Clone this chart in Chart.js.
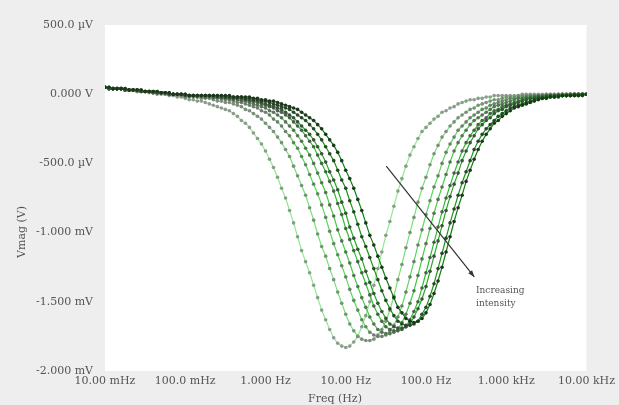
<!DOCTYPE html>
<html>
<head>
<meta charset="utf-8">
<script src="https://cdn.jsdelivr.net/npm/chart.js@4.4.1/dist/chart.umd.min.js"></script>
<style>
  html, body { margin: 0; padding: 0; background: #eeeeee; }
  #wrap { width: 619px; height: 405px; }
</style>
</head>
<body>
<div id="wrap"><canvas id="chart" width="619" height="405"></canvas></div>
<script>
// sweep frequencies (Hz), 20 points per decade
const freqs = [
  0.01, 0.01122, 0.01259, 0.01413, 0.01585, 0.01778, 0.01995, 0.02239, 0.02512, 0.02818,
  0.03162, 0.03548, 0.03981, 0.04467, 0.05012, 0.05623, 0.0631, 0.07079, 0.07943, 0.08913,
  0.1, 0.1122, 0.1259, 0.1413, 0.1585, 0.1778, 0.1995, 0.2239, 0.2512, 0.2818,
  0.3162, 0.3548, 0.3981, 0.4467, 0.5012, 0.5623, 0.631, 0.7079, 0.7943, 0.8913,
  1, 1.122, 1.259, 1.413, 1.585, 1.778, 1.995, 2.239, 2.512, 2.818,
  3.162, 3.548, 3.981, 4.467, 5.012, 5.623, 6.31, 7.079, 7.943, 8.913,
  10, 11.22, 12.59, 14.13, 15.85, 17.78, 19.95, 22.39, 25.12, 28.18,
  31.62, 35.48, 39.81, 44.67, 50.12, 56.23, 63.1, 70.79, 79.43, 89.13,
  100, 112.2, 125.9, 141.3, 158.5, 177.8, 199.5, 223.9, 251.2, 281.8,
  316.2, 354.8, 398.1, 446.7, 501.2, 562.3, 631, 707.9, 794.3, 891.3,
  1000, 1122, 1259, 1413, 1585, 1778, 1995, 2239, 2512, 2818,
  3162, 3548, 3981, 4467, 5012, 5623, 6310, 7079, 7943, 8913,
  10000
]

// Vmag in mV, lowest intensity first
const curve1 = [
  0.05, 0.04, 0.04, 0.04, 0.04, 0.03, 0.03, 0.03, 0.02, 0.02,
  0.02, 0.01, 0.01, 0.00, 0.00, 0.00, -0.01, -0.01, -0.02, -0.02,
  -0.03, -0.04, -0.04, -0.05, -0.05, -0.06, -0.07, -0.08, -0.09, -0.10,
  -0.11, -0.12, -0.14, -0.16, -0.19, -0.21, -0.24, -0.28, -0.32, -0.36,
  -0.41, -0.47, -0.53, -0.60, -0.68, -0.75, -0.84, -0.93, -1.03, -1.13,
  -1.21, -1.29, -1.38, -1.47, -1.56, -1.63, -1.70, -1.76, -1.80, -1.82,
  -1.83,
  -1.82, -1.79, -1.75, -1.68, -1.60, -1.50, -1.38, -1.26, -1.14, -1.02,
  -0.92, -0.81, -0.70, -0.61, -0.52, -0.44, -0.38, -0.32, -0.27, -0.24,
  -0.21, -0.18, -0.16, -0.13, -0.12, -0.10, -0.09, -0.07, -0.06, -0.05,
  -0.04, -0.04, -0.03, -0.03, -0.02, -0.02, -0.01, -0.01, -0.01, -0.01,
  -0.01, -0.01, -0.01, 0, 0, 0, 0, 0, 0, 0,
  0, 0, 0, 0, 0, 0, 0, 0, 0, 0
]
const curve2 = [
  0.05, 0.04, 0.04, 0.04, 0.04, 0.03, 0.03, 0.03, 0.02, 0.02,
  0.02, 0.02, 0.01, 0.01, 0.01, 0.00, 0.00, 0.00, -0.01, -0.01,
  -0.02, -0.02, -0.02, -0.02, -0.03, -0.03, -0.03, -0.04, -0.05, -0.05,
  -0.06, -0.06, -0.07, -0.08, -0.09, -0.11, -0.12, -0.14, -0.16, -0.18,
  -0.21, -0.24, -0.27, -0.31, -0.35, -0.40, -0.45, -0.52, -0.59, -0.66,
  -0.73, -0.82, -0.91, -1.01, -1.10, -1.17, -1.26, -1.34, -1.43, -1.51,
  -1.59, -1.66, -1.71, -1.75, -1.77, -1.78, -1.78,
  -1.77, -1.74, -1.70, -1.64, -1.56, -1.46, -1.34, -1.23, -1.11, -1.00,
  -0.89, -0.78, -0.68, -0.60, -0.51, -0.43, -0.37, -0.31, -0.27, -0.23,
  -0.20, -0.17, -0.15, -0.13, -0.11, -0.10, -0.08, -0.07, -0.06, -0.05,
  -0.04, -0.04, -0.03, -0.02, -0.02, -0.02, -0.01, -0.01, -0.01, -0.01,
  -0.01, -0.01, -0.01, 0, 0, 0, 0, 0, 0, 0, 0, 0, 0, 0
]
const curve3 = [
  0.05, 0.04, 0.04, 0.04, 0.04, 0.03, 0.03, 0.03, 0.02, 0.02,
  0.02, 0.02, 0.01, 0.01, 0.01, 0.01, 0.00, 0.00, 0.00, -0.01,
  -0.01, -0.01, -0.01, -0.02, -0.02, -0.02, -0.02, -0.03, -0.03, -0.03,
  -0.04, -0.04, -0.05, -0.06, -0.06, -0.07, -0.08, -0.09, -0.10, -0.12,
  -0.13, -0.15, -0.18, -0.20, -0.23, -0.27, -0.30, -0.35, -0.39, -0.45,
  -0.51, -0.58, -0.65, -0.72, -0.80, -0.89, -0.99, -1.08, -1.16, -1.24,
  -1.32, -1.41, -1.49, -1.56, -1.63, -1.68, -1.72, -1.74, -1.75, -1.75,
  -1.74, -1.71, -1.67, -1.61, -1.53, -1.43, -1.32, -1.21, -1.09, -0.98,
  -0.87, -0.77, -0.67, -0.59, -0.50, -0.42, -0.36, -0.31, -0.26, -0.23,
  -0.20, -0.17, -0.15, -0.13, -0.11, -0.10, -0.08, -0.07, -0.06, -0.05,
  -0.04, -0.03, -0.03, -0.02, -0.02, -0.02, -0.01, -0.01, -0.01, -0.01,
  -0.01, -0.01, -0.01, 0, 0, 0, 0, 0, 0, 0, 0
]
const curve4 = [
  0.05, 0.04, 0.04, 0.04, 0.04, 0.03, 0.03, 0.03, 0.03, 0.02,
  0.02, 0.02, 0.01, 0.01, 0.01, 0.01, 0.00, 0.00, 0.00, 0.00,
  -0.01, -0.01, -0.01, -0.01, -0.01, -0.02, -0.02, -0.02, -0.02, -0.03,
  -0.03, -0.03, -0.04, -0.04, -0.05, -0.05, -0.06, -0.07, -0.08, -0.09,
  -0.10, -0.12, -0.13, -0.15, -0.17, -0.20, -0.23, -0.26, -0.30, -0.34,
  -0.39, -0.44, -0.50, -0.57, -0.64, -0.71, -0.80, -0.88, -0.98, -1.06,
  -1.14, -1.22, -1.31, -1.39, -1.47, -1.54, -1.61, -1.66, -1.70, -1.72, -1.73, -1.73,
  -1.72, -1.70, -1.65, -1.59, -1.51, -1.42, -1.31, -1.19, -1.08, -0.97,
  -0.86, -0.76, -0.67, -0.58, -0.49, -0.41, -0.35, -0.30, -0.26, -0.22,
  -0.19, -0.17, -0.15, -0.13, -0.11, -0.09, -0.08, -0.07, -0.06, -0.05,
  -0.04, -0.03, -0.03, -0.02, -0.02, -0.02, -0.01, -0.01, -0.01, -0.01,
  -0.01, -0.01, 0, 0, 0, 0, 0, 0, 0
]
const curve5 = [
  0.05, 0.04, 0.04, 0.04, 0.04, 0.03, 0.03, 0.03, 0.03, 0.02,
  0.02, 0.02, 0.01, 0.01, 0.01, 0.01, 0.00, 0.00, 0.00, 0.00,
  -0.01, -0.01, -0.01, -0.01, -0.01, -0.01, -0.01, -0.02, -0.02, -0.02,
  -0.02, -0.03, -0.03, -0.03, -0.04, -0.04, -0.05, -0.05, -0.06, -0.07,
  -0.08, -0.09, -0.10, -0.12, -0.13, -0.15, -0.17, -0.20, -0.23, -0.26,
  -0.30, -0.34, -0.38, -0.44, -0.50, -0.56, -0.63, -0.70, -0.79, -0.87,
  -0.97, -1.05, -1.13, -1.21, -1.29, -1.37, -1.45, -1.53, -1.59, -1.64, -1.68, -1.70, -1.71, -1.71,
  -1.70, -1.68, -1.63, -1.57, -1.50, -1.40, -1.29, -1.18, -1.07, -0.96,
  -0.85, -0.75, -0.66, -0.57, -0.49, -0.41, -0.35, -0.30, -0.26, -0.22,
  -0.19, -0.17, -0.14, -0.12, -0.11, -0.09, -0.08, -0.07, -0.06, -0.05,
  -0.04, -0.03, -0.03, -0.02, -0.02, -0.02, -0.01, -0.01, -0.01, -0.01,
  -0.01, -0.01, 0, 0, 0, 0, 0
]
const curve6 = [
  0.05, 0.04, 0.04, 0.04, 0.04, 0.03, 0.03, 0.03, 0.03, 0.02,
  0.02, 0.02, 0.02, 0.01, 0.01, 0.01, 0.00, 0.00, 0.00, 0.00,
  -0.01, -0.01, -0.01, -0.01, -0.01, -0.01, -0.01, -0.01, -0.02, -0.02,
  -0.02, -0.02, -0.03, -0.03, -0.03, -0.04, -0.04, -0.05, -0.05, -0.06,
  -0.07, -0.08, -0.09, -0.10, -0.11, -0.13, -0.15, -0.17, -0.20, -0.23,
  -0.26, -0.29, -0.33, -0.38, -0.43, -0.49, -0.56, -0.62, -0.69, -0.78,
  -0.86, -0.96, -1.04, -1.12, -1.19, -1.28, -1.36, -1.44, -1.51, -1.57, -1.62, -1.66, -1.68, -1.69, -1.69,
  -1.68, -1.66, -1.61, -1.55, -1.48, -1.39, -1.28, -1.17, -1.06, -0.95,
  -0.84, -0.74, -0.65, -0.57, -0.48, -0.41, -0.35, -0.30, -0.25, -0.22,
  -0.19, -0.17, -0.14, -0.12, -0.11, -0.09, -0.08, -0.07, -0.06, -0.05,
  -0.04, -0.03, -0.03, -0.02, -0.02, -0.02, -0.01, -0.01, -0.01, -0.01,
  -0.01, -0.01, 0, 0, 0, 0
]
const curve7 = [
  0.05, 0.05, 0.04, 0.04, 0.04, 0.04, 0.03, 0.03, 0.03, 0.03, 0.02,
  0.02, 0.02, 0.02, 0.01, 0.01, 0.01, 0.00, 0.00, 0.00, 0.00,
  -0.01, -0.01, -0.01, -0.01, -0.01, -0.01, -0.01, -0.01, -0.01, -0.02,
  -0.02, -0.02, -0.02, -0.02, -0.03, -0.03, -0.04, -0.04, -0.05, -0.05,
  -0.06, -0.07, -0.08, -0.09, -0.10, -0.11, -0.13, -0.15, -0.17, -0.19,
  -0.22, -0.25, -0.29, -0.33, -0.38, -0.43, -0.48, -0.55, -0.62, -0.68,
  -0.77, -0.85, -0.94, -1.03, -1.10, -1.18, -1.26, -1.34, -1.42, -1.49, -1.55, -1.60, -1.64, -1.66, -1.67,
  -1.67,
  -1.66, -1.64, -1.59, -1.54, -1.46, -1.37, -1.26, -1.15, -1.04, -0.93,
  -0.83, -0.73, -0.64, -0.56, -0.48, -0.40, -0.34, -0.29, -0.25, -0.22,
  -0.19, -0.16, -0.14, -0.12, -0.10, -0.09, -0.08, -0.07, -0.06, -0.05,
  -0.04, -0.03, -0.03, -0.02, -0.02, -0.02, -0.01, -0.01, -0.01, -0.01,
  -0.01, -0.01, 0, 0
]
const curve8 = [
  0.05, 0.05, 0.04, 0.04, 0.04, 0.04, 0.03, 0.03, 0.03, 0.03,
  0.02, 0.02, 0.02, 0.02, 0.01, 0.01, 0.01, 0.00, 0.00, 0.00, 0.00,
  -0.01, -0.01, -0.01, -0.01, -0.01, -0.01, -0.01, -0.01, -0.01, -0.01, -0.01,
  -0.02, -0.02, -0.02, -0.02, -0.02, -0.03, -0.03, -0.04, -0.04,
  -0.05, -0.05, -0.06, -0.07, -0.08, -0.09, -0.10, -0.11, -0.13, -0.15,
  -0.17, -0.19, -0.22, -0.25, -0.29, -0.33, -0.37, -0.42, -0.48, -0.55,
  -0.61, -0.68, -0.76, -0.84, -0.93, -1.02, -1.09, -1.17, -1.25, -1.33,
  -1.40, -1.47, -1.54, -1.58, -1.62, -1.64, -1.65,
  -1.64, -1.62, -1.58, -1.52, -1.44, -1.35, -1.25, -1.14, -1.03, -0.92,
  -0.82, -0.73, -0.63, -0.55, -0.47, -0.40, -0.34, -0.29, -0.25, -0.21,
  -0.19, -0.16, -0.14, -0.12, -0.10, -0.09, -0.08, -0.07, -0.06, -0.05,
  -0.04, -0.03, -0.03, -0.02, -0.02, -0.02, -0.01, -0.01, -0.01, -0.01,
  -0.01, -0.01, 0
]
const series = [curve1, curve2, curve3, curve4, curve5, curve6, curve7, curve8]

const lineColors = ['#8eea8e', '#74e274', '#5ad85a', '#44cc44', '#32bb32', '#24a824', '#1a941a', '#117e11']
const markerColors = ['#8d9a8d', '#7e8d7e', '#6d7f6d', '#5c705c', '#4b614b', '#3b523b', '#2c442c', '#1d361d']

const xTickValues = [0.01, 0.1, 1, 10, 100, 1000, 10000]
const xTickLabels = ['10.00 mHz', '100.0 mHz', '1.000 Hz', '10.00 Hz', '100.0 Hz', '1.000 kHz', '10.00 kHz']
const yTickValues = [0.5, 0, -0.5, -1, -1.5, -2]
const yTickLabels = ['500.0 µV', '0.000 V', '-500.0 µV', '-1.000 mV', '-1.500 mV', '-2.000 mV']
const xTitle = 'Freq (Hz)'
const yTitle = 'Vmag (V)'

// annotation arrow, in data units (Hz, mV)
const arrowFrom = [32, -0.52]
const arrowTo = [400, -1.32]
const noteLines = ['Increasing', 'intensity']
const noteAt = [420, -1.42]

const tickFont = { family: 'DejaVu Serif', size: 11 }

const decor = {
  id: 'decor',
  beforeDraw(chart) {
    const { ctx, chartArea: a } = chart
    ctx.save()
    ctx.fillStyle = '#ffffff'
    ctx.fillRect(a.left, a.top, a.right - a.left, a.bottom - a.top)
    ctx.restore()
  },
  afterDraw(chart) {
    const { ctx, scales } = chart
    const x = scales.x, y = scales.y
    ctx.save()
    // axis titles
    ctx.fillStyle = '#555'
    ctx.font = '11px "DejaVu Serif"'
    ctx.textAlign = 'center'
    ctx.textBaseline = 'middle'
    ctx.fillText(xTitle, 335, 399)
    ctx.save()
    ctx.translate(22, 232)
    ctx.rotate(-Math.PI / 2)
    ctx.fillText(yTitle, 0, 0)
    ctx.restore()
    // arrow
    const x1 = x.getPixelForValue(arrowFrom[0]), y1 = y.getPixelForValue(arrowFrom[1])
    const x2 = x.getPixelForValue(arrowTo[0]), y2 = y.getPixelForValue(arrowTo[1])
    ctx.strokeStyle = '#333'
    ctx.fillStyle = '#333'
    ctx.lineWidth = 1.2
    ctx.beginPath()
    ctx.moveTo(x1, y1)
    ctx.lineTo(x2, y2)
    ctx.stroke()
    const ang = Math.atan2(y2 - y1, x2 - x1)
    ctx.beginPath()
    ctx.moveTo(x2, y2)
    ctx.lineTo(x2 - 7 * Math.cos(ang - 0.35), y2 - 7 * Math.sin(ang - 0.35))
    ctx.lineTo(x2 - 7 * Math.cos(ang + 0.35), y2 - 7 * Math.sin(ang + 0.35))
    ctx.closePath()
    ctx.fill()
    // note
    ctx.fillStyle = '#555'
    ctx.font = '9px "DejaVu Serif"'
    ctx.textAlign = 'left'
    const nx = x.getPixelForValue(noteAt[0]), ny = y.getPixelForValue(noteAt[1])
    noteLines.forEach((t, i) => ctx.fillText(t, nx, ny + i * 13))
    ctx.restore()
  }
}

const ctx = document.getElementById('chart').getContext('2d')

const chart = new Chart(ctx, {
  type: 'line',
  data: {
    datasets: series.map((vals, i) => ({
      data: vals.map((v, j) => ({ x: freqs[j], y: v })),
      borderColor: lineColors[i],
      borderWidth: 1.2,
      backgroundColor: markerColors[i],
      pointBackgroundColor: markerColors[i],
      pointBorderWidth: 0,
      pointRadius: 1.8,
      fill: false,
      tension: 0,
      order: series.length - i,
    }))
  },
  options: {
    responsive: false,
    animation: false,
    devicePixelRatio: 1,
    layout: { padding: { top: 25, right: 31, left: 0, bottom: 0 } },
    plugins: { legend: { display: false }, tooltip: { enabled: false } },
    scales: {
      x: {
        type: 'logarithmic',
        min: 0.01,
        max: 10000,
        grid: { display: false, drawTicks: false, tickLength: 0 },
        border: { display: false },
        afterBuildTicks: s => { s.ticks = xTickValues.map(v => ({ value: v })) },
        afterFit: s => { s.height = 34 },
        ticks: {
          autoSkip: false,
          maxRotation: 0,
          padding: 4,
          color: '#555',
          font: tickFont,
          callback: (v, i) => xTickLabels[i]
        }
      },
      y: {
        type: 'linear',
        min: -2,
        max: 0.5,
        grid: { display: false, drawTicks: false, tickLength: 0 },
        border: { display: false },
        afterBuildTicks: s => { s.ticks = yTickValues.map(v => ({ value: v })) },
        afterFit: s => { s.width = 105 },
        ticks: {
          autoSkip: false,
          padding: 12,
          color: '#555',
          font: tickFont,
          callback: (v, i) => yTickLabels[i]
        }
      }
    }
  },
  plugins: [decor]
})
</script>
</body>
</html>
